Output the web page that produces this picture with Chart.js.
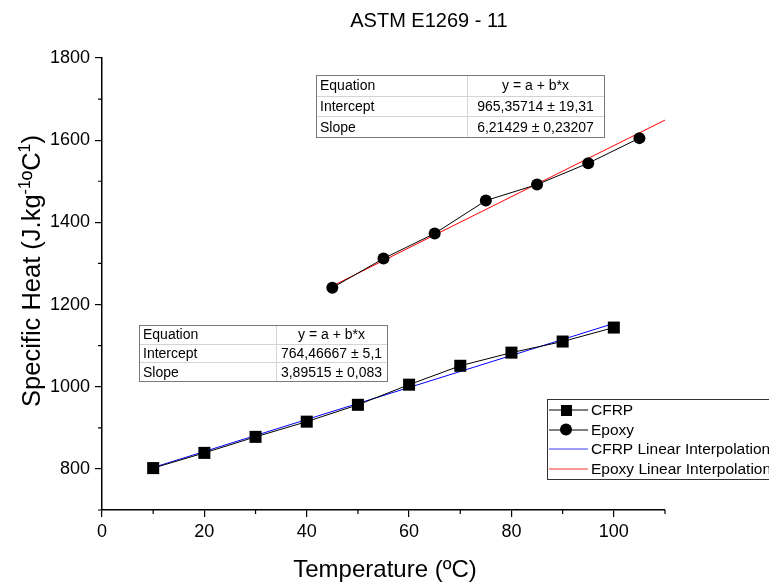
<!DOCTYPE html>
<html><head><meta charset="utf-8">
<script src="https://cdn.jsdelivr.net/npm/chart.js@4"></script>
<style>html,body{margin:0;padding:0;background:#fff}</style>
</head><body>
<canvas id="c" width="769" height="582"></canvas>
<script>
const cfrpTemp=[10,20,30,40,50,60,70,80,90,100];
const cfrpCp=[802,839,878,915,956,1005,1051,1083,1110,1144];
const epoxyTemp=[45,55,65,75,85,95,105];
const epoxyCp=[1241,1312,1373,1453,1492,1544,1605];
const cfrpFitTemp=[10,100];
const cfrpFitCp=[803.4,1154.0];
const epoxyFitTemp=[45,110];
const epoxyFitCp=[1245.0,1648.9];
const xTicks=[0,20,40,60,80,100];
const yTicks=[800,1000,1200,1400,1600,1800];
const xMinor=[10,30,50,70,90,110];
const yMinor=[700,900,1100,1300,1500,1700];
const epoxyTable=[["Equation","y = a + b*x"],["Intercept","965,35714 ± 19,31"],["Slope","6,21429 ± 0,23207"]];
const cfrpTable=[["Equation","y = a + b*x"],["Intercept","764,46667 ± 5,1"],["Slope","3,89515 ± 0,083"]];
const legendLabels=["CFRP","Epoxy","CFRP Linear Interpolation","Epoxy Linear Interpolation"];
const titleText="ASTM E1269 - 11";
const xTitle="Temperature (ºC)";
const yTitleParts=[["Specific Heat (J.kg",false],["-1",true],["ºC",false],["1",true],[")",false]];

const FONT="'Liberation Sans', Arial, sans-serif";
const pts=(xs,ys)=>xs.map((x,i)=>({x:x,y:ys[i]}));

function drawTable(ctx,rows,l,t,r,b,div){
  const n=rows.length, h=(b-t)/n;
  ctx.save();
  ctx.fillStyle='#fff';ctx.fillRect(l,t,r-l,b-t);
  ctx.strokeStyle='#d4d4d4';ctx.lineWidth=1;
  ctx.beginPath();
  for(let i=1;i<n;i++){ctx.moveTo(l,Math.round(t+i*h)+0.5);ctx.lineTo(r,Math.round(t+i*h)+0.5);}
  ctx.moveTo(div+0.5,t);ctx.lineTo(div+0.5,b);
  ctx.stroke();
  ctx.strokeStyle='#7a7a7a';
  ctx.strokeRect(l+0.5,t+0.5,r-l,b-t);
  ctx.fillStyle='#000';ctx.font='14px '+FONT;ctx.textBaseline='middle';
  rows.forEach((row,i)=>{
    const y=t+(i+0.5)*h+1;
    ctx.textAlign='left';ctx.fillText(row[0],l+4,y);
    ctx.textAlign='center';ctx.fillText(row[1],(div+r)/2,y);
  });
  ctx.restore();
}

const deco={
  id:'deco',
  afterDraw(chart){
    const ctx=chart.ctx, xs=chart.scales.x, ys=chart.scales.y;
    ctx.save();
    // minor ticks
    ctx.strokeStyle='#000';ctx.lineWidth=1.2;ctx.beginPath();
    xMinor.forEach(v=>{const p=xs.getPixelForValue(v);ctx.moveTo(p,ys.bottom);ctx.lineTo(p,ys.bottom+4);});
    yMinor.forEach(v=>{const p=ys.getPixelForValue(v);ctx.moveTo(xs.left,p);ctx.lineTo(xs.left-4,p);});
    ctx.stroke();
    // title
    ctx.fillStyle='#000';ctx.textAlign='center';ctx.textBaseline='middle';
    ctx.font='20px '+FONT;ctx.fillText(titleText,429,21);
    ctx.font='24px '+FONT;ctx.fillText(xTitle,385,570);
    // y title
    ctx.save();ctx.translate(32,271);ctx.rotate(-Math.PI/2);
    let total=0;
    const big='25.5px ', small='16px ';
    yTitleParts.forEach(p=>{ctx.font=(p[1]?small:big)+FONT;total+=ctx.measureText(p[0]).width;});
    let x=-total/2;ctx.textAlign='left';ctx.textBaseline='alphabetic';
    yTitleParts.forEach(p=>{ctx.font=(p[1]?small:big)+FONT;ctx.fillText(p[0],x,p[1]?-2:8);x+=ctx.measureText(p[0]).width;});
    ctx.restore();
    // tables
    drawTable(ctx,epoxyTable,316,75,604,137,467);
    drawTable(ctx,cfrpTable,139,325,387,381,276);
    // legend
    ctx.fillStyle='#fff';ctx.fillRect(547,399,240,80);
    ctx.strokeStyle='#333';ctx.lineWidth=1;ctx.strokeRect(547.5,399.5,240,80);
    const rowsY=[410,429.5,449,468.5];
    const cols=['#000','#000','#3b3bff','#ff3030'];
    rowsY.forEach((y,i)=>{
      ctx.strokeStyle=cols[i];ctx.lineWidth=1;ctx.beginPath();ctx.moveTo(549,Math.round(y));ctx.lineTo(588,Math.round(y));ctx.stroke();
      ctx.fillStyle='#000';
      if(i===0){ctx.fillRect(561,y-5,11,11);}
      if(i===1){ctx.beginPath();ctx.arc(566,y,6,0,Math.PI*2);ctx.fill();}
      ctx.font='15.5px '+FONT;ctx.textAlign='left';ctx.textBaseline='middle';
      ctx.fillText(legendLabels[i],591,y+1);
    });
    ctx.restore();
  }
};

new Chart(document.getElementById('c'),{
  type:'scatter',
  data:{datasets:[
    {label:legendLabels[0],data:pts(cfrpTemp,cfrpCp),showLine:true,borderColor:'#000',borderWidth:1,backgroundColor:'#000',pointStyle:'rect',pointRadius:8.5,pointBorderWidth:0,order:1},
    {label:legendLabels[1],data:pts(epoxyTemp,epoxyCp),showLine:true,borderColor:'#000',borderWidth:1,backgroundColor:'#000',pointStyle:'circle',pointRadius:6,pointBorderWidth:0,order:1},
    {label:legendLabels[2],data:pts(cfrpFitTemp,cfrpFitCp),showLine:true,borderColor:'#0000ff',borderWidth:1,pointRadius:0,order:2},
    {label:legendLabels[3],data:pts(epoxyFitTemp,epoxyFitCp),showLine:true,borderColor:'#ff0000',borderWidth:1,pointRadius:0,order:2}
  ]},
  options:{
    responsive:false,animation:false,devicePixelRatio:1,
    layout:{padding:{top:58,right:104,left:0,bottom:0}},
    plugins:{legend:{display:false},title:{display:false},tooltip:{enabled:false}},
    scales:{
      x:{type:'linear',min:0,max:110,
        afterBuildTicks:s=>{s.ticks=xTicks.map(v=>({value:v}));},
        afterFit:s=>{s.height=72;},
        grid:{drawOnChartArea:false,drawTicks:true,tickLength:7,color:'#000',lineWidth:1.2},
        border:{color:'#000',width:1.5},
        ticks:{color:'#000',font:{family:FONT,size:18},padding:4,maxRotation:0,callback:v=>String(v)}},
      y:{type:'linear',min:700,max:1800,
        afterBuildTicks:s=>{s.ticks=yTicks.map(v=>({value:v}));},
        afterFit:s=>{s.width=102;},
        grid:{drawOnChartArea:false,drawTicks:true,tickLength:7,color:'#000',lineWidth:1.2},
        border:{color:'#000',width:1.5},
        ticks:{color:'#000',font:{family:FONT,size:18},padding:5,callback:v=>String(v)}}
    }
  },
  plugins:[deco]
});
</script>
</body></html>
